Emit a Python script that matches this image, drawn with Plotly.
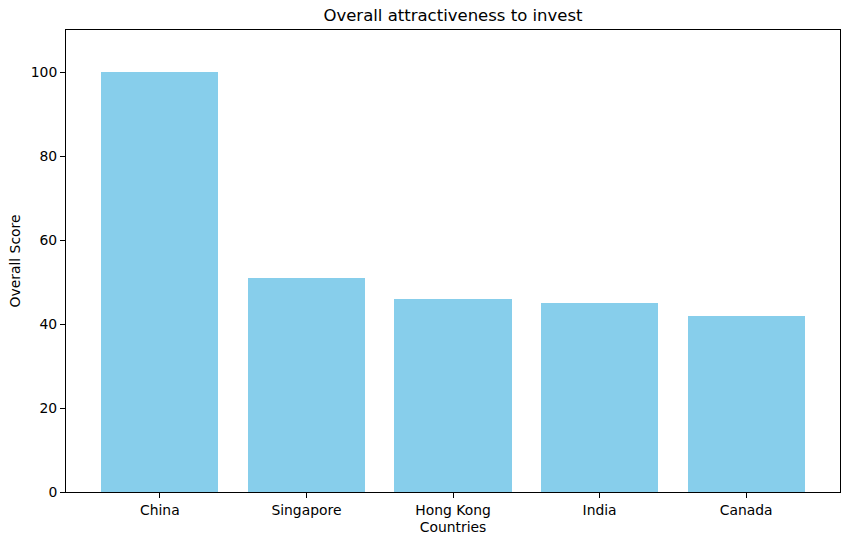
import plotly.graph_objects as go

countries = ["China", "Singapore", "Hong Kong", "India", "Canada"]
scores = [100, 51, 46, 45, 42]
y_ticks = [0, 20, 40, 60, 80, 100]

fig = go.Figure()
fig.add_trace(go.Bar(x=list(range(len(countries))), y=scores, width=0.8,
                     marker=dict(color="skyblue", line=dict(width=0))))

fig.update_xaxes(range=[-0.64, len(countries) - 1 + 0.64],
                 tickvals=list(range(len(countries))), ticktext=countries,
                 ticks="outside", ticklen=5, tickcolor="black",
                 tickfont=dict(size=13.9),
                 showline=True, linecolor="black", linewidth=1, mirror=True,
                 showgrid=False, zeroline=False, automargin=False,
                 title=dict(text="Countries", standoff=5, font=dict(size=13.9)))
fig.update_yaxes(range=[0, 110], tickvals=y_ticks,
                 ticks="outside", ticklen=5, tickcolor="black",
                 tickfont=dict(size=13.9),
                 showline=True, linecolor="black", linewidth=1, mirror=True,
                 showgrid=False, zeroline=False, automargin=False,
                 title=dict(text="Overall Score", standoff=6, font=dict(size=13.9)))

fig.update_layout(width=850, height=545,
                  margin=dict(l=66, r=10, t=30, b=53),
                  paper_bgcolor="white", plot_bgcolor="white",
                  font=dict(family="DejaVu Sans", size=13.9, color="black"),
                  title=dict(text="Overall attractiveness to invest", x=0.5, xanchor="center",
                             xref="paper", y=0.972, yanchor="middle",
                             font=dict(size=16.5), automargin=False),
                  showlegend=False, bargap=0)
# page body margin would shift the figure by 8px
fig.write_html("out.html", config={"displayModeBar": False},
               post_script="document.body.style.margin='0';")
